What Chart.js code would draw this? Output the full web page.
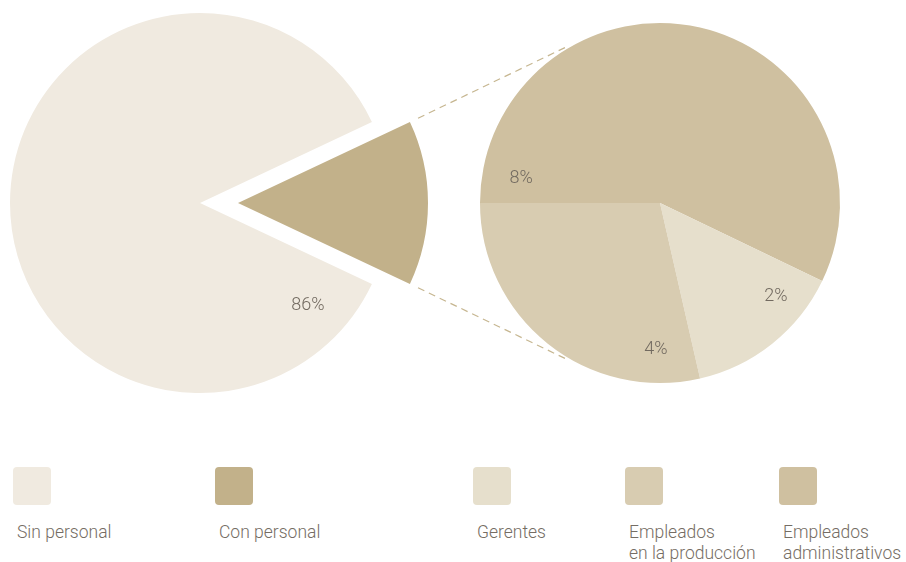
<!DOCTYPE html>
<html lang="es">
<head>
<meta charset="UTF-8">
<title>Personal</title>
<script src="https://cdn.jsdelivr.net/npm/chart.js"></script>
<style>
    body { margin: 0; background: #fff; font-family: Roboto, 'Noto Sans', sans-serif; }
    #wrap { position: relative; width: 906px; height: 562px; }
    #wrap canvas { position: absolute; left: 0; top: 0; }
    .leg { position: absolute; top: 467px; }
    .leg .box { width: 38px; height: 38px; border-radius: 4px; }
    .leg .txt { margin: 17px 0 0 4px; font-size: 17.5px; font-weight: 300; line-height: 21px; color: #756d64; white-space: nowrap; }
</style>
</head>
<body>
<div id="wrap">
    <canvas id="leftMain" width="906" height="440"></canvas>
    <canvas id="leftOut" width="906" height="440"></canvas>
    <canvas id="rightPie" width="906" height="440"></canvas>
</div>
<script>
// left pie: share of companies
const leftLabels = ['Con personal', 'Sin personal'];
const leftValues = [14, 86];
const leftColors = ['#c2b18a', '#f0eae0'];

// right pie: breakdown of "Con personal"
const rightLabels = ['Empleados administrativos', 'Gerentes', 'Empleados en la producción'];
const rightValues = [8, 2, 4];
const rightColors = ['#cfc0a0', '#e6dfcc', '#d8ccb1'];

// legend order
const legendItems = [
    { text: 'Sin personal', color: '#f0eae0', x: 13 },
    { text: 'Con personal', color: '#c2b18a', x: 215 },
    { text: 'Gerentes', color: '#e6dfcc', x: 473 },
    { text: 'Empleados<br>en la producción', color: '#d8ccb1', x: 625 },
    { text: 'Empleados<br>administrativos', color: '#cfc0a0', x: 779 }
];

const clear = 'rgba(0,0,0,0)';
const leftRotation = 90 - leftValues[0] / 100 * 180;

// label placement [angle in degrees, radius] per slice
const sliceLabels = {
    id: 'sliceLabels',
    afterDatasetsDraw(chart, args, opts) {
        if (!opts.pos) return;
        const ctx = chart.ctx;
        const arc = chart.getDatasetMeta(0).data[0];
        ctx.save();
        ctx.font = '300 18px Roboto, "Noto Sans", sans-serif';
        ctx.fillStyle = '#726a60';
        ctx.textAlign = 'center';
        ctx.textBaseline = 'middle';
        opts.pos.forEach((p, i) => {
            if (!p) return;
            const a = p[0] * Math.PI / 180;
            ctx.fillText(chart.data.datasets[0].data[i] + '%', arc.x + Math.cos(a) * p[1], arc.y + Math.sin(a) * p[1]);
        });
        ctx.restore();
    }
};

// dashed lines from the pulled-out slice to the right pie
const connectors = {
    id: 'connectors',
    afterDraw(chart, args, opts) {
        if (!opts.enabled) return;
        const src = outChart.getDatasetMeta(0).data[0];
        const dst = chart.getDatasetMeta(0).data[0];
        const ctx = chart.ctx;
        ctx.save();
        ctx.strokeStyle = '#c6b690';
        ctx.lineWidth = 1.2;
        ctx.setLineDash([7, 5]);
        [[src.startAngle, -121], [src.endAngle, 121]].forEach(([sa, deg]) => {
            const x0 = src.x + Math.cos(sa) * src.outerRadius;
            const y0 = src.y + Math.sin(sa) * src.outerRadius;
            const da = deg * Math.PI / 180;
            const x1 = dst.x + Math.cos(da) * (dst.outerRadius + 2);
            const y1 = dst.y + Math.sin(da) * (dst.outerRadius + 2);
            const len = Math.hypot(x1 - x0, y1 - y0);
            const gap = 9;
            ctx.beginPath();
            ctx.moveTo(x0 + (x1 - x0) * gap / len, y0 + (y1 - y0) * gap / len);
            ctx.lineTo(x1, y1);
            ctx.stroke();
        });
        ctx.restore();
    }
};

function pie(id, labels, values, colors, rotation, padding, pluginOpts) {
    return new Chart(document.getElementById(id), {
        type: 'pie',
        data: {
            labels: labels,
            datasets: [{ data: values, backgroundColor: colors, borderWidth: 0 }]
        },
        options: {
            responsive: false,
            animation: false,
            rotation: rotation,
            layout: { padding: padding },
            plugins: Object.assign({
                legend: { display: false },
                tooltip: { enabled: false }
            }, pluginOpts)
        },
        plugins: [sliceLabels, connectors]
    });
}

pie('leftMain', leftLabels, leftValues, [clear, leftColors[1]], leftRotation,
    { left: 10, right: 516, top: 13, bottom: 47 },
    { sliceLabels: { pos: [null, [43.6, 149]] } });

const outChart = pie('leftOut', leftLabels, leftValues, [leftColors[0], clear], leftRotation,
    { left: 48, right: 478, top: 13, bottom: 47 }, {});

pie('rightPie', rightLabels, rightValues, rightColors, 270,
    { left: 480, right: 66, top: 23, bottom: 57 },
    { sliceLabels: { pos: [[-170, 141], [39, 149], [91.6, 147]] }, connectors: { enabled: true } });

// legend
const wrap = document.getElementById('wrap');
legendItems.forEach(item => {
    const el = document.createElement('div');
    el.className = 'leg';
    el.style.left = item.x + 'px';
    el.innerHTML = '<div class="box" style="background:' + item.color + '"></div><div class="txt">' + item.text + '</div>';
    wrap.appendChild(el);
});
</script>
</body>
</html>
